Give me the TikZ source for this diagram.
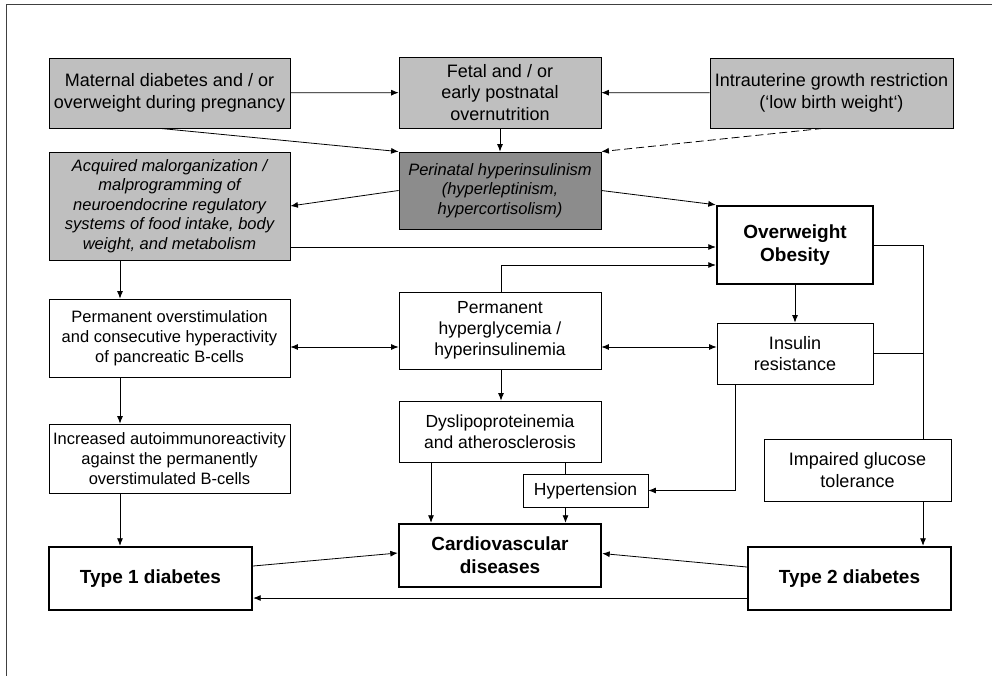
\documentclass[tikz,border=0pt]{standalone}
\usepackage{fontspec}
\setmainfont{Liberation Sans}
\usetikzlibrary{arrows.meta}
\definecolor{boxgrey}{RGB}{191,191,191}
\definecolor{boxdark}{RGB}{140,140,140}

\begin{document}
\begin{tikzpicture}[x=1pt, y=-1pt, line width=0.8pt, >={Latex[length=7.5pt,width=6pt]},
    box/.style={draw, align=center, inner sep=2pt, font=\fontsize{18}{21.6}\selectfont},
    greybox/.style={box, fill=boxgrey},
    darkbox/.style={box, fill=boxdark, font=\fontsize{16.5}{19.5}\selectfont\itshape},
    smallbox/.style={box, font=\fontsize{16.5}{20}\selectfont},
    boldbox/.style={box, line width=2.4pt, font=\fontsize{19}{23}\selectfont\bfseries}]
    \useasboundingbox (0,0) rectangle (992,676);
    \draw [line width=1pt, black!75] (6,676) -- (6,5) -- (992,5);
    % prenatal causes
    \node[greybox, minimum width=241, minimum height=70] (mat) at (169.5,93) {Maternal diabetes and / or\\overweight during pregnancy};
    \node[greybox, minimum width=202, minimum height=71] (fet) at (500,92.5) {Fetal and / or\\early postnatal\\overnutrition};
    \node[greybox, minimum width=243, minimum height=70] (iug) at (831.5,93) {Intrauterine growth restriction\\(‘low birth weight‘)};
    \node[greybox, minimum width=241, minimum height=108, font=\fontsize{16.5}{19.6}\selectfont\itshape] (acq) at (169.5,206) {Acquired malorganization /\\malprogramming of\\neuroendocrine regulatory\\systems of food intake, body\\weight, and metabolism};
    \node[darkbox, minimum width=202, minimum height=77] (per) at (500,190.5) {Perinatal hyperinsulinism\\(hyperleptinism,\\hypercortisolism)};
    \node[boldbox, minimum width=156, minimum height=78] (obe) at (795,245) {Overweight\\Obesity};
    % consequences
    \node[smallbox, minimum width=241, minimum height=78] (ovs) at (169.5,338) {Permanent overstimulation\\and consecutive hyperactivity\\of pancreatic B-cells};
    \node[box, minimum width=202, minimum height=77, font=\fontsize{17.5}{21}\selectfont] (hyg) at (500,330.5) {Permanent\\hyperglycemia /\\hyperinsulinemia};
    \node[box, minimum width=156, minimum height=61] (ins) at (795,353.5) {Insulin\\resistance};
    \node[box, minimum width=202, minimum height=61, font=\fontsize{17.5}{21}\selectfont] (dys) at (500,431.5) {Dyslipoproteinemia\\and atherosclerosis};
    \node[box, minimum width=125, minimum height=33, font=\fontsize{17.5}{21}\selectfont] (hyp) at (585.5,490.5) {Hypertension};
    \node[box, minimum width=187, minimum height=62] (igt) at (857.5,470) {Impaired glucose\\tolerance};
    \node[smallbox, minimum width=241, minimum height=69] (aut) at (169.5,458.5) {Increased autoimmunoreactivity\\against the permanently\\overstimulated B-cells};
    \node[boldbox, minimum width=203, minimum height=63] (t1d) at (150.5,578.5) {Type 1 diabetes};
    \node[boldbox, minimum width=202, minimum height=63] (cvd) at (500,555.5) {Cardiovascular\\diseases};
    \node[boldbox, minimum width=203, minimum height=63] (t2d) at (849.5,578.5) {Type 2 diabetes};
    \coordinate (lft) at (120,0);
    \coordinate (rgt) at (923,0);
    \coordinate (mid) at (0,347);
    % arrows
    \draw [->] (mat) to (fet);
    \draw [->] (iug) to (fet);
    \draw [->] (fet) to (per);
    \draw [->] ([xshift=-9.5]mat.south) to (per.north west);
    \draw [->, dash pattern=on 8pt off 4pt] ([xshift=-8.5]iug.south) to (per.north east);
    \draw [->] (per.west) to (acq.east);
    \draw [->] (per.east) to (obe.north west);
    \draw [->] ([yshift=-2]obe.west -| acq.east) to ([yshift=-2]obe.west);
    \draw [->] (acq.south -| lft) to (ovs.north -| lft);
    \draw [->] (ovs.south -| lft) to (aut.north -| lft);
    \draw [->] (aut.south -| lft) to (t1d.north -| lft);
    \draw [->] ([xshift=1]hyg.north) |- ([yshift=-20]obe.west);
    \draw [->] (obe) to (ins);
    \draw (obe.east) -| (igt.north -| rgt);
    \draw (ins.east) to (ins.east -| rgt);
    \draw [->] (igt.south -| rgt) to (t2d.north -| rgt);
    \draw [<->] (ovs.east |- mid) to (hyg.west |- mid);
    \draw [<->] (hyg.east |- mid) to (ins.west |- mid);
    \draw [->] ([xshift=1]hyg.south) to ([xshift=1]dys.north);
    \draw [->] ([xshift=-60]ins.south) |- (hyp.east);
    \draw ([xshift=-20]hyp.north) to ([xshift=-20]hyp.north |- dys.south);
    \draw [->] ([xshift=-20]hyp.south) to ([xshift=-20]hyp.south |- cvd.north);
    \draw [->] ([xshift=-69]dys.south) to ([xshift=-69]cvd.north);
    \draw [->] ([yshift=12.5]t1d.east) to ([yshift=2.5]cvd.west);
    \draw [->] ([yshift=11.5]t2d.west) to ([yshift=2]cvd.east);
    \draw [->] ([yshift=-19.5]t2d.west) to ([yshift=-19.5]t1d.east);
\end{tikzpicture}
\end{document}
